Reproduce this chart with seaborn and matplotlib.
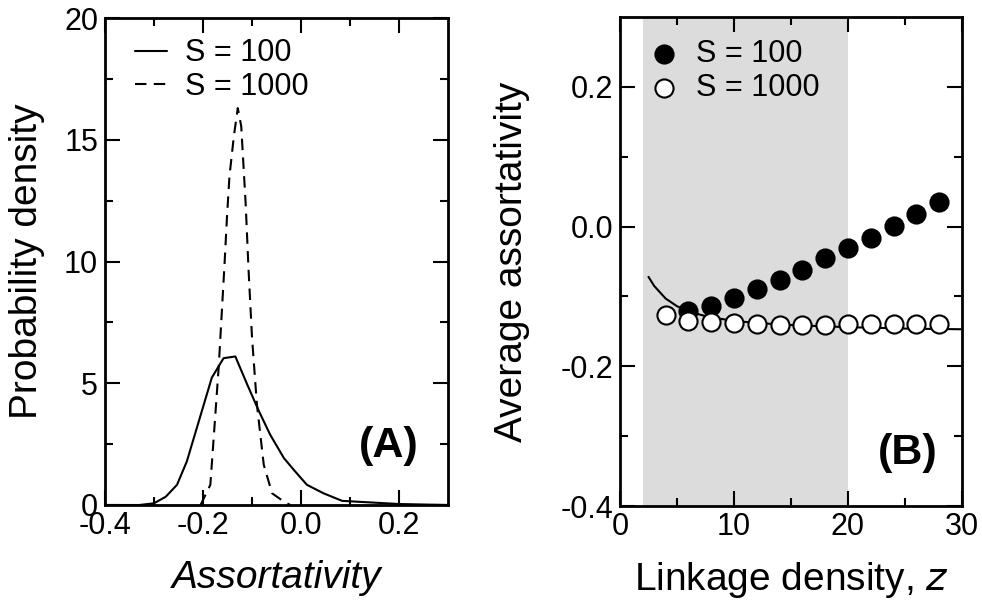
import numpy as np
import pandas as pd
import matplotlib
matplotlib.use('Agg')
import matplotlib.pyplot as plt
import seaborn as sns

# Panel A: probability density of assortativity
assort_s100 = [-0.40, -0.33, -0.30, -0.276, -0.253, -0.233, -0.182, -0.158, -0.134,
               -0.110, -0.086, -0.063, -0.035, -0.015, 0.012, 0.046, 0.084, 0.20, 0.30]
dens_s100 = [0.0, 0.0, 0.07, 0.34, 0.83, 1.79, 5.23, 6.03, 6.10,
             4.96, 3.86, 2.89, 1.93, 1.45, 0.83, 0.48, 0.17, 0.04, 0.0]

assort_s1000 = [-0.205, -0.185, -0.168, -0.156, -0.151, -0.146, -0.137, -0.129, -0.122,
                -0.113, -0.107, -0.100, -0.090, -0.076, -0.059, -0.035, -0.022]
dens_s1000 = [0.0, 0.83, 5.65, 9.92, 11.85, 13.5, 15.15, 16.3, 15.56,
              12.4, 9.64, 6.89, 4.13, 1.65, 0.48, 0.14, 0.0]

# Panel B: average assortativity vs linkage density
z_s100 = [6, 8, 10, 12, 14, 16, 18, 20, 22, 24, 26, 28]
avg_s100 = [-0.121, -0.114, -0.102, -0.0895, -0.076, -0.062, -0.045, -0.031,
            -0.016, 0.001, 0.018, 0.035]

z_s1000 = [4, 6, 8, 10, 12, 14, 16, 18, 20, 22, 24, 26, 28]
avg_s1000 = [-0.126, -0.135, -0.137, -0.138, -0.140, -0.141, -0.141, -0.141,
             -0.140, -0.140, -0.140, -0.140, -0.139]

z_curve = [2.5, 3, 4, 5, 6, 7, 8, 10, 12, 15, 20, 25, 30]
avg_curve = [-0.072, -0.085, -0.103, -0.114, -0.121, -0.126, -0.130, -0.135,
             -0.138, -0.141, -0.144, -0.146, -0.147]

shade_range = (2, 20)
labels = ['S = 100', 'S = 1000']

sns.set_style('ticks')
plt.rcParams['font.family'] = ['Liberation Sans', 'DejaVu Sans']
plt.rcParams['axes.linewidth'] = 2.0
plt.rcParams['text.color'] = 'black'
plt.rcParams['axes.labelcolor'] = 'black'
plt.rcParams['xtick.color'] = 'black'
plt.rcParams['ytick.color'] = 'black'

fig = plt.figure(figsize=(9.82, 6.03), dpi=100)
axA = fig.add_axes([105 / 982, 1 - 505 / 603, 343 / 982, 487 / 603])
axB = fig.add_axes([620 / 982, 1 - 506 / 603, 342 / 982, 489 / 603])

# ---- Panel A
dens_df = pd.concat([
    pd.DataFrame({'assort': assort_s100, 'density': dens_s100, 'S': labels[0]}),
    pd.DataFrame({'assort': assort_s1000, 'density': dens_s1000, 'S': labels[1]}),
])
sns.lineplot(data=dens_df, x='assort', y='density', style='S',
             dashes={labels[0]: '', labels[1]: (5.5, 3.5)},
             color='black', linewidth=1.5, sort=False, estimator=None, ax=axA)
axA.set_xlim(-0.4, 0.3)
axA.set_ylim(0, 20)
axA.set_xticks([-0.4, -0.2, 0.0, 0.2])
axA.set_xticklabels(['-0.4', '-0.2', '0.0', '0.2'])
axA.set_xticks([-0.3, -0.1, 0.1], minor=True)
axA.set_yticks([0, 5, 10, 15, 20])
axA.set_yticks([2.5, 7.5, 12.5, 17.5], minor=True)
axA.set_xlabel('Assortativity', fontsize=28, style='italic')
axA.set_ylabel('Probability density', fontsize=28)
legA = axA.legend(loc='upper left', bbox_to_anchor=(0.087, 0.958), frameon=False,
                  fontsize=22, borderpad=0, borderaxespad=0, handlelength=1.05,
                  handletextpad=0.6, labelspacing=0.1)
axA.text(0.913, 0.08, '(A)', transform=axA.transAxes, ha='right', va='bottom',
         fontsize=31, fontweight='bold')

# ---- Panel B
axB.axvspan(*shade_range, color='#dcdcdc', lw=0, zorder=0)
sns.lineplot(x=z_curve, y=avg_curve, color='black', linewidth=1.5, ax=axB,
             zorder=2, legend=False)
sns.scatterplot(x=z_s100, y=avg_s100, color='black', edgecolor='black',
                s=170, linewidth=1.5, ax=axB, zorder=3, label=labels[0])
sns.scatterplot(x=z_s1000, y=avg_s1000, color='white', edgecolor='black',
                s=170, linewidth=1.5, ax=axB, zorder=3, label=labels[1])
axB.set_xlim(0, 30)
axB.set_ylim(-0.4, 0.3)
axB.set_xticks([0, 10, 20, 30])
axB.set_xticks([5, 15, 25], minor=True)
axB.set_yticks([-0.4, -0.2, 0.0, 0.2])
axB.set_yticklabels(['-0.4', '-0.2', '0.0', '0.2'])
axB.set_yticks([-0.3, -0.1, 0.1], minor=True)
axB.set_xlabel('Linkage density, $\\it{z}$', fontsize=28)
axB.set_ylabel('Average assortativity', fontsize=28)
legB = axB.legend(loc='upper left', bbox_to_anchor=(0.085, 0.954), frameon=False,
                  fontsize=22, borderpad=0, borderaxespad=0, handlelength=1.0,
                  handletextpad=0.55, labelspacing=0.1)
axB.text(0.93, 0.068, '(B)', transform=axB.transAxes, ha='right', va='bottom',
         fontsize=31, fontweight='bold')

for leg in (legA, legB):
    for t in leg.get_texts():
        t.set_color('black')

for ax in (axA, axB):
    ax.tick_params(which='both', direction='in', top=True, right=True,
                   width=1.5, colors='black')
    ax.tick_params(which='major', length=10.8, labelsize=22)
    ax.tick_params(axis='y', which='major', pad=5)
    ax.tick_params(axis='x', which='major', pad=4)
    ax.tick_params(which='minor', length=5.5)
    for sp in ax.spines.values():
        sp.set_linewidth(2.0)
        sp.set_color('black')

axA.yaxis.set_label_coords(-0.175, 0.5)
axB.yaxis.set_label_coords(-0.263, 0.5)
axA.xaxis.set_label_coords(0.5, -0.113)
axB.xaxis.set_label_coords(0.5, -0.11)

fig.savefig('out.png', dpi=100)
